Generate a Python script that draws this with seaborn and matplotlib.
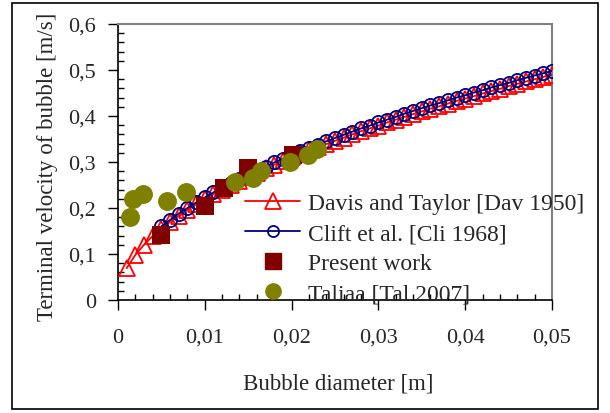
import matplotlib
matplotlib.use('Agg')
import matplotlib.pyplot as plt
from matplotlib.ticker import MultipleLocator, FixedLocator, FixedFormatter
from matplotlib.patches import Rectangle
from matplotlib.lines import Line2D
import seaborn as sns

# Davis and Taylor [Dav 1950]
dt_d = [0.001, 0.002, 0.003, 0.004, 0.005, 0.006, 0.007, 0.008, 0.009, 0.010,
        0.011, 0.012, 0.013, 0.014, 0.015, 0.016, 0.017, 0.018, 0.019, 0.020,
        0.021, 0.022, 0.023, 0.024, 0.025, 0.026, 0.027, 0.028, 0.029, 0.030,
        0.031, 0.032, 0.033, 0.034, 0.035, 0.036, 0.037, 0.038, 0.039, 0.040,
        0.041, 0.042, 0.043, 0.044, 0.045, 0.046, 0.047, 0.048, 0.049, 0.050]
dt_v = [0.069, 0.098, 0.120, 0.139, 0.155, 0.170, 0.183, 0.196, 0.208, 0.219,
        0.230, 0.240, 0.250, 0.259, 0.268, 0.277, 0.286, 0.294, 0.302, 0.310,
        0.317, 0.325, 0.332, 0.339, 0.346, 0.353, 0.360, 0.367, 0.373, 0.379,
        0.386, 0.392, 0.398, 0.404, 0.410, 0.416, 0.421, 0.427, 0.433, 0.438,
        0.443, 0.449, 0.454, 0.459, 0.465, 0.470, 0.475, 0.480, 0.485, 0.490]

# Clift et al. [Cli 1968]
cl_d = [0.005, 0.006, 0.007, 0.008, 0.009, 0.010,
        0.011, 0.012, 0.013, 0.014, 0.015, 0.016, 0.017, 0.018, 0.019, 0.020,
        0.021, 0.022, 0.023, 0.024, 0.025, 0.026, 0.027, 0.028, 0.029, 0.030,
        0.031, 0.032, 0.033, 0.034, 0.035, 0.036, 0.037, 0.038, 0.039, 0.040,
        0.041, 0.042, 0.043, 0.044, 0.045, 0.046, 0.047, 0.048, 0.049, 0.050]
cl_v = [0.160, 0.174, 0.188, 0.200, 0.212, 0.223,
        0.234, 0.244, 0.254, 0.264, 0.273, 0.282, 0.290, 0.299, 0.307, 0.315,
        0.323, 0.330, 0.338, 0.345, 0.352, 0.359, 0.366, 0.373, 0.379, 0.386,
        0.392, 0.398, 0.405, 0.411, 0.417, 0.423, 0.428, 0.434, 0.440, 0.445,
        0.451, 0.456, 0.462, 0.467, 0.472, 0.478, 0.483, 0.488, 0.493, 0.498]

# Present work
pw_d = [0.005, 0.010, 0.0122, 0.015, 0.0202]
pw_v = [0.142, 0.205, 0.243, 0.286, 0.316]

# Taliaa [Tal 2007]
ta_d = [0.0014, 0.0017, 0.0029, 0.0056, 0.0078, 0.0135, 0.0155, 0.0165, 0.0198, 0.0219, 0.0229]
ta_v = [0.180, 0.220, 0.230, 0.215, 0.235, 0.256, 0.265, 0.280, 0.299, 0.315, 0.328]

labels = ['Davis and Taylor [Dav 1950]', 'Clift et al. [Cli 1968]', 'Present work', 'Taliaa [Tal 2007]']
xticks = [0, 0.01, 0.02, 0.03, 0.04, 0.05]
xticklabels = ['0', '0,01', '0,02', '0,03', '0,04', '0,05']
yticks = [0, 0.1, 0.2, 0.3, 0.4, 0.5, 0.6]
yticklabels = ['0', '0,1', '0,2', '0,3', '0,4', '0,5', '0,6']

sns.set_style('ticks')
plt.rcParams['font.family'] = ['Liberation Serif', 'DejaVu Serif']

fig = plt.figure(figsize=(6.1, 4.14), dpi=100)
ax = fig.add_axes([0.1934, 0.273, 0.7115, 0.6666])

red = '#FF0000'
navy = '#000080'
maroon = '#800000'
olive = '#808000'

sns.lineplot(x=dt_d, y=dt_v, ax=ax, color=red, lw=1.3, marker='^', markersize=12,
             markerfacecolor='none', markeredgecolor=red, markeredgewidth=1.3, zorder=3)
sns.lineplot(x=cl_d, y=cl_v, ax=ax, color=navy, lw=1.3, marker='o', markersize=9.5,
             markerfacecolor='none', markeredgecolor=navy, markeredgewidth=1.3, zorder=4)
sns.scatterplot(x=pw_d, y=pw_v, ax=ax, color=maroon, marker='s', s=165, linewidth=0, zorder=5)
sns.scatterplot(x=ta_d, y=ta_v, ax=ax, color=olive, marker='o', s=185, linewidth=0, zorder=6)

ax.set_xlim(0, 0.05)
ax.set_ylim(0, 0.6)
ax.xaxis.set_major_locator(FixedLocator(xticks))
ax.xaxis.set_major_formatter(FixedFormatter(xticklabels))
ax.yaxis.set_major_locator(FixedLocator(yticks))
ax.yaxis.set_major_formatter(FixedFormatter(yticklabels))
ax.xaxis.set_minor_locator(MultipleLocator(0.002))
ax.yaxis.set_minor_locator(MultipleLocator(0.02))
ax.tick_params(which='major', direction='out', length=7, width=1, labelsize=16, color='black')
ax.tick_params(axis='x', which='major', pad=13)
ax.tick_params(axis='y', which='major', pad=9)
ax.tick_params(which='minor', direction='in', length=4, width=1, color='black')

for s in ['top', 'right']:
    ax.spines[s].set_visible(True)
    ax.spines[s].set_color('#808080')
    ax.spines[s].set_linewidth(1.5)
for s in ['left', 'bottom']:
    ax.spines[s].set_color('black')
    ax.spines[s].set_linewidth(1.2)

ax.set_xlabel('Bubble diameter [m]', fontsize=16.5)
ax.set_ylabel('Terminal velocity of bubble [m/s]', fontsize=16.5)
ax.xaxis.set_label_coords(0.507, -0.262)
ax.yaxis.set_label_coords(-0.138, 0.487)

handles = [
    Line2D([], [], color=red, lw=1.3, marker='^', markersize=12, markerfacecolor='none',
           markeredgecolor=red, markeredgewidth=1.3),
    Line2D([], [], color=navy, lw=1.3, marker='o', markersize=8, markerfacecolor='none',
           markeredgecolor=navy, markeredgewidth=1.3),
    Line2D([], [], ls='none', marker='s', markersize=12, color=maroon),
    Line2D([], [], ls='none', marker='o', markersize=11, color=olive),
]
ax.legend(handles, labels, loc='lower left', bbox_to_anchor=(0.293, -0.016), frameon=False,
          fontsize=17, handlelength=2.33, handletextpad=0.34, labelspacing=0.36,
          borderpad=0, borderaxespad=0)

fig.patches.append(Rectangle((12 / 610, 4 / 414), 586 / 610, 406 / 414, transform=fig.transFigure,
                             fill=False, edgecolor='black', lw=1.2))

fig.savefig('out.png', dpi=100)
